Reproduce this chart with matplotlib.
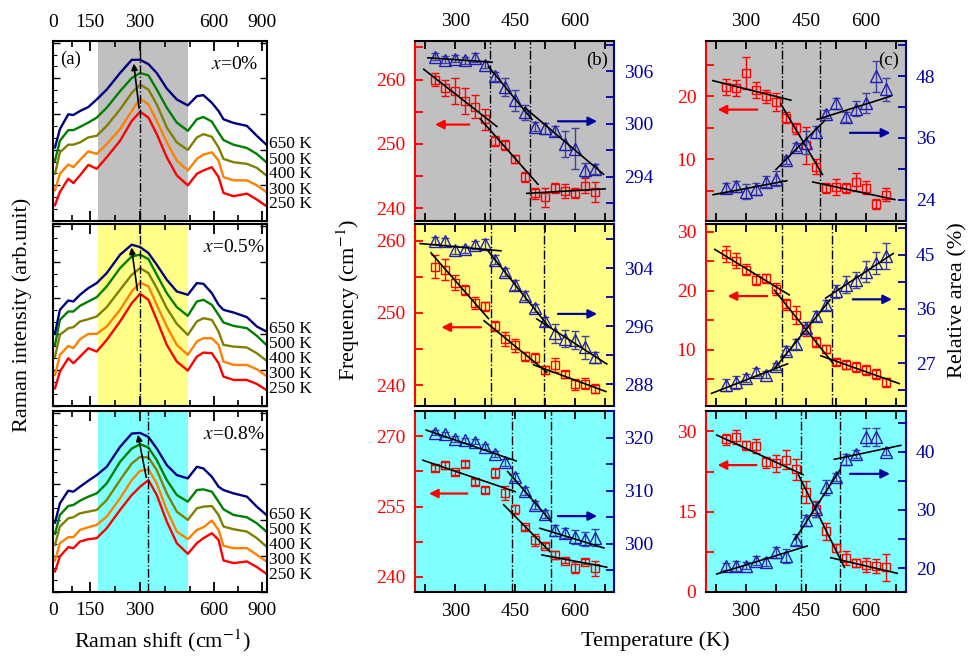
import numpy as np
import matplotlib
matplotlib.use('Agg')
import matplotlib.pyplot as plt
from matplotlib.ticker import MultipleLocator, FixedLocator
from matplotlib.transforms import blended_transform_factory

plt.rcParams['font.family'] = ['Liberation Serif', 'DejaVu Serif']
plt.rcParams['mathtext.fontset'] = 'stix'

RED = '#ff0000'
BLUE = '#0000a0'
GRAY = '#c0c0c0'
YELLOW = '#ffff88'
CYAN = '#80ffff'

# ---------- (a) Raman spectra ----------
shift = [7, 27, 61, 82, 109, 143, 170, 200, 240, 275, 300, 325, 350, 380, 410,
         443, 492, 533, 586, 628, 659, 722, 806, 868, 928]
spec_temps = ['250 K', '300 K', '400 K', '500 K', '650 K']
spec_colors = ['#ff0000', '#ff8000', '#808000', '#008000', '#000080']

a1_250 = [48, 88, 128, 115, 138, 170, 158, 193, 243, 303, 331, 313, 263, 193, 138, 108, 143, 153, 163, 133, 85, 75, 83, 65, 45]
a1_300 = [93, 143, 171, 163, 185, 211, 203, 233, 278, 333, 371, 353, 303, 238, 183, 153, 188, 201, 208, 183, 133, 123, 123, 108, 88]
a1_400 = [143, 208, 231, 231, 238, 253, 258, 288, 338, 388, 413, 398, 353, 283, 238, 215, 253, 263, 255, 223, 188, 178, 173, 161, 138]
a1_500 = [183, 243, 275, 275, 285, 298, 313, 343, 393, 433, 448, 441, 398, 343, 298, 273, 308, 315, 301, 268, 245, 231, 221, 203, 178]
a1_650 = [223, 278, 323, 321, 333, 345, 368, 398, 448, 488, 488, 475, 448, 401, 368, 350, 378, 381, 358, 333, 308, 297, 288, 258, 231]

a2_250 = [53, 103, 143, 128, 148, 173, 163, 198, 253, 308, 336, 318, 258, 183, 133, 106, 148, 160, 158, 128, 88, 78, 78, 66, 48]
a2_300 = [93, 153, 180, 173, 200, 216, 216, 238, 288, 343, 370, 358, 303, 238, 183, 153, 193, 203, 203, 183, 133, 123, 123, 110, 90]
a2_400 = [148, 213, 233, 236, 253, 260, 268, 296, 348, 393, 413, 398, 353, 293, 246, 213, 253, 263, 258, 223, 183, 178, 175, 158, 136]
a2_500 = [183, 258, 283, 283, 300, 313, 326, 358, 413, 448, 453, 440, 393, 338, 296, 270, 313, 318, 303, 273, 250, 240, 233, 210, 183]
a2_650 = [218, 288, 316, 313, 333, 353, 368, 398, 453, 483, 476, 458, 423, 378, 343, 333, 368, 366, 338, 303, 288, 280, 266, 238, 223]

a3_250 = [62, 107, 135, 132, 152, 159, 162, 192, 247, 292, 317, 337, 292, 212, 147, 115, 147, 162, 177, 157, 95, 87, 92, 75, 55]
a3_300 = [95, 147, 165, 165, 187, 195, 202, 227, 282, 337, 365, 369, 327, 247, 182, 159, 187, 195, 215, 187, 139, 132, 132, 112, 92]
a3_400 = [142, 197, 222, 225, 237, 242, 247, 277, 337, 387, 407, 405, 367, 297, 242, 217, 252, 257, 259, 232, 197, 189, 182, 162, 137]
a3_500 = [175, 232, 259, 262, 275, 287, 297, 327, 392, 432, 445, 435, 397, 337, 292, 272, 307, 309, 302, 272, 249, 232, 225, 207, 182]
a3_650 = [209, 267, 305, 302, 317, 335, 352, 377, 437, 477, 479, 467, 432, 382, 352, 342, 377, 372, 347, 317, 307, 297, 287, 257, 232]

label_y = [50, 95, 141, 186, 232]
spec_tags = ['$x$=0%', '$x$=0.5%', '$x$=0.8%']
spec_vline = [300, 300, 325]
# arrow tail (shift, I) -> head (shift, I)
spec_arrows = [((298, 333), (280, 485)), ((293, 338), (273, 483)), ((320, 337), (292, 482))]

# ---------- (b), (c) temperature dependence ----------
T = [250, 275, 300, 325, 350, 375, 400, 425, 450, 475, 500, 525, 550, 575, 600, 625, 650]

b1_red = [260.0, 258.7, 258.2, 256.7, 255.8, 253.8, 250.5, 249.8, 247.7, 244.9, 242.3, 241.7, 243.1, 242.7, 242.4, 243.5, 242.5]
b1_rerr = [1.0, 1.3, 2.0, 2.0, 1.8, 1.7, 0.8, 0.8, 0.6, 0.8, 0.9, 1.5, 0.8, 1.1, 0.8, 1.2, 1.5]
b1_blue = [307.6, 307.3, 307.4, 307.2, 307.5, 306.7, 305.4, 304.2, 302.7, 301.3, 299.7, 299.5, 299.2, 297.7, 297.2, 294.8, 294.9]
b1_berr = [0.4, 0.4, 0.4, 0.4, 0.5, 0.4, 0.5, 1.0, 1.2, 0.8, 0.5, 0.6, 0.6, 1.5, 2.3, 0.8, 0.6]
b1_rfit = [(221, 404, 261.6, 252.7), (362, 507, 253.9, 243.7), (479, 675, 242.3, 243.0)]
b1_bfit = [(231, 392, 307.5, 307.0), (383, 492, 306.5, 300.5), (475, 671, 301.8, 294.3)]

b2_red = [256.4, 256.0, 254.2, 253.2, 251.4, 250.9, 248.2, 246.4, 245.5, 244.0, 243.8, 242.1, 242.8, 241.5, 240.1, 240.2, 239.5]
b2_rerr = [1.6, 1.5, 1.1, 0.7, 0.8, 0.6, 0.7, 1.0, 0.9, 0.6, 0.6, 0.5, 1.0, 0.5, 0.8, 0.8, 0.6]
b2_blue = [307.8, 307.7, 306.5, 306.6, 307.2, 307.4, 305.2, 303.5, 301.7, 300.2, 298.5, 296.7, 295.0, 294.3, 294.1, 293.1, 291.7]
b2_berr = [0.5, 0.5, 0.5, 0.5, 0.5, 0.7, 0.6, 0.6, 0.7, 0.6, 0.6, 0.6, 1.3, 1.2, 1.3, 1.6, 0.8]
b2_rfit = [(239, 383, 258.3, 249.2), (372, 529, 248.9, 241.8), (496, 677, 242.8, 239.1)]
b2_bfit = [(212, 414, 307.4, 306.4), (383, 533, 306.3, 296.0), (504, 679, 297.0, 290.8)]

b3_red = [263.3, 263.8, 262.3, 264.1, 260.2, 258.5, 262.2, 258.0, 254.4, 250.6, 247.9, 246.7, 244.7, 243.5, 242.0, 243.3, 241.9]
b3_rerr = [0.6, 0.8, 0.5, 0.6, 0.6, 0.6, 1.1, 1.5, 1.0, 0.5, 1.2, 0.6, 0.8, 0.5, 1.2, 0.5, 1.6]
b3_blue = [320.9, 320.6, 319.7, 319.5, 319.2, 318.3, 316.9, 315.3, 312.6, 309.9, 307.3, 305.6, 302.5, 302.0, 301.3, 300.9, 301.1]
b3_berr = [0.5, 0.5, 0.5, 0.5, 0.5, 0.5, 0.5, 0.7, 0.8, 0.8, 0.8, 0.8, 1.0, 1.0, 1.3, 1.3, 1.6]
b3_rfit = [(219, 450, 264.9, 258.2), (421, 537, 255.4, 245.4), (517, 679, 244.7, 242.1)]
b3_bfit = [(227, 452, 321.4, 315.6), (431, 540, 313.6, 304.2), (512, 672, 302.9, 299.2)]

c1_red = [21.5, 21.3, 23.7, 21.0, 20.0, 19.1, 16.6, 14.9, 12.2, 8.8, 5.5, 5.6, 5.5, 6.4, 5.5, 2.9, 4.4]
c1_rerr = [1.3, 1.3, 2.5, 1.3, 1.0, 1.5, 0.9, 0.8, 3.0, 1.2, 0.8, 1.3, 0.8, 1.5, 1.0, 0.8, 1.0]
c1_blue = [26.3, 26.6, 25.6, 26.1, 27.5, 28.1, 31.7, 34.3, 35.1, 37.2, 40.6, 42.7, 40.1, 41.7, 42.8, 48.0, 45.4]
c1_berr = [1.0, 1.0, 1.5, 1.1, 1.1, 1.5, 0.8, 0.8, 2.3, 1.2, 0.8, 1.0, 1.0, 1.5, 2.0, 3.0, 2.2]
c1_rfit = [(217, 412, 22.5, 19.4), (387, 491, 18.8, 7.6), (467, 672, 6.4, 3.6)]
c1_bfit = [(218, 402, 25.0, 27.7), (375, 497, 29.9, 39.4), (478, 662, 39.6, 44.1)]

c2_red = [26.2, 25.1, 23.6, 21.9, 22.1, 20.3, 17.7, 15.9, 13.5, 11.3, 10.1, 8.0, 7.5, 7.1, 6.6, 5.9, 4.5]
c2_rerr = [1.4, 1.3, 1.0, 0.9, 0.8, 1.0, 0.9, 1.5, 1.2, 0.8, 0.7, 0.5, 0.8, 0.8, 0.8, 0.8, 0.8]
c2_blue = [23.4, 23.8, 24.5, 25.5, 25.1, 26.5, 29.1, 30.2, 32.8, 34.8, 36.7, 38.9, 40.0, 40.8, 42.2, 43.6, 44.8]
c2_berr = [1.0, 1.0, 0.7, 0.7, 0.6, 0.6, 0.8, 0.8, 1.0, 0.8, 0.8, 1.0, 1.4, 1.4, 1.8, 1.8, 2.1]
c2_rfit = [(222, 408, 27.0, 19.3), (371, 518, 20.1, 7.7), (487, 683, 9.0, 4.3)]
c2_bfit = [(214, 404, 22.0, 26.9), (372, 510, 26.2, 37.5), (499, 668, 37.8, 45.2)]

c3_red = [28.5, 29.0, 27.4, 27.2, 24.2, 24.0, 24.7, 22.9, 18.7, 15.5, 11.3, 8.2, 6.4, 5.4, 5.1, 4.9, 4.6]
c3_rerr = [1.0, 1.3, 0.8, 1.3, 1.0, 1.5, 1.8, 2.0, 2.0, 1.5, 1.5, 0.8, 1.3, 0.8, 1.3, 1.3, 2.5]
c3_blue = [20.3, 20.4, 20.4, 21.3, 21.0, 22.7, 22.1, 24.9, 28.2, 30.1, 33.9, 35.6, 38.7, 39.6, 42.5, 42.5, 40.0]
c3_berr = [0.6, 0.9, 0.6, 0.7, 0.7, 0.9, 1.2, 1.0, 1.0, 1.3, 1.3, 0.7, 0.9, 0.7, 1.5, 1.5, 0.6]
c3_rfit = [(227, 443, 29.3, 21.9), (431, 546, 21.9, 4.6), (512, 678, 6.4, 3.5)]
c3_bfit = [(227, 453, 19.0, 23.8), (422, 535, 24.9, 36.9), (521, 687, 38.7, 41.1)]

# transition temperatures (dash-dot lines)
b_vlines = [(387, 487), (389, 521), (441, 539)]
c_vlines = [(391, 485), (389, 516), (437, 535)]
# arrows: (T_tail, T_head, value)
b_rarrow = [(342, 242, 253.0), (371, 258, 248.0), (337, 227, 257.8)]
b_barrow = [(550, 662, 300.3), (550, 662, 297.7), (550, 662, 305.2)]
c_rarrow = [(335, 222, 17.9), (360, 247, 19.1), (333, 222, 23.7)]
c_barrow = [(553, 668, 37.0), (560, 672, 37.6), (553, 667, 36.2)]

faces = [GRAY, YELLOW, CYAN]

# piecewise Raman-shift axis (compressed at both ends)
SH_BRK = [-100, 0, 150, 450, 900, 1000]
PX_BRK = [-24.5, 0, 36.7, 136.7, 208.4, 224.3]


def fwd(x):
    return np.interp(x, SH_BRK, PX_BRK)


def inv(p):
    return np.interp(p, PX_BRK, SH_BRK)


fig = plt.figure(figsize=(9.69, 6.57), dpi=100)
W, H = 969., 657.
rows = [(41, 221), (224, 406), (411, 592)]


def add_ax(x0, x1, row):
    y0, y1 = row
    return fig.add_axes([x0 / W, 1 - y1 / H, (x1 - x0) / W, (y1 - y0) / H])


spectra = [[a1_250, a1_300, a1_400, a1_500, a1_650],
           [a2_250, a2_300, a2_400, a2_500, a2_650],
           [a3_250, a3_300, a3_400, a3_500, a3_650]]
tag_x = [0.96, 0.99, 0.99]

for i in range(3):
    ax = add_ax(53.3, 266.7, rows[i])
    ax.set_xscale('function', functions=(fwd, inv))
    ax.set_xlim(0, 930)
    ax.set_ylim(0, 545)
    ax.axvspan(175, 443, color=faces[i], lw=0, zorder=0)
    for curve, c in zip(spectra[i], spec_colors):
        ax.plot(shift, curve, color=c, lw=1.7, zorder=2)
    ax.axvline(spec_vline[i], color='k', ls='-.', lw=1, zorder=3)
    (t0, i0), (t1, i1) = spec_arrows[i]
    ax.annotate('', xy=(t1, i1), xytext=(t0, i0),
                arrowprops=dict(arrowstyle='-|>', color='k', lw=1.2, mutation_scale=9), zorder=4)
    trans = blended_transform_factory(ax.transAxes, ax.transData)
    for yy, lab in zip(label_y, spec_temps):
        ax.text(1.012, yy, lab, transform=trans, va='center', ha='left', fontsize=12.5)
    ax.text(tag_x[i], 0.87, spec_tags[i], transform=ax.transAxes, ha='right', va='center', fontsize=14)
    if i == 0:
        ax.text(0.08, 0.9, '(a)', transform=ax.transAxes, ha='center', va='center', fontsize=13.5)
    ax.xaxis.set_major_locator(FixedLocator([0, 150, 300, 600, 900]))
    ax.xaxis.set_minor_locator(FixedLocator([75, 225, 375, 450, 750]))
    ax.yaxis.set_major_locator(MultipleLocator(108))
    ax.yaxis.set_minor_locator(MultipleLocator(36))
    ax.tick_params(axis='x', which='both', direction='in', top=True, bottom=True,
                   labeltop=(i == 0), labelbottom=(i == 2), labelsize=14, pad=7)
    ax.tick_params(axis='x', which='major', length=7, width=1.3)
    ax.tick_params(axis='x', which='minor', length=4, width=1.2)
    ax.tick_params(axis='y', which='both', direction='in', left=True, right=True, labelleft=False)
    ax.tick_params(axis='y', which='major', length=5, width=1)
    ax.tick_params(axis='y', which='minor', length=3, width=0.8, right=False)
    for s in ax.spines.values():
        s.set_linewidth(1.5)

b_panels = [
    (b1_red, b1_rerr, b1_blue, b1_berr, b1_rfit, b1_bfit, (238, 266), [240, 250, 260], 5, (289, 309.4), [294, 300, 306], 3),
    (b2_red, b2_rerr, b2_blue, b2_berr, b2_rfit, b2_bfit, (237.1, 262.3), [240, 250, 260], 5, (285.0, 310.1), [288, 296, 304], 4),
    (b3_red, b3_rerr, b3_blue, b3_berr, b3_rfit, b3_bfit, (236.8, 275.4), [240, 255, 270], 7.5, (290.9, 325.0), [300, 310, 320], 5),
]
c_panels = [
    (c1_red, c1_rerr, c1_blue, c1_berr, c1_rfit, c1_bfit, (0.2, 28.8), [10, 20], 5, (19.9, 54.8), [24, 36, 48], 6),
    (c2_red, c2_rerr, c2_blue, c2_berr, c2_rfit, c2_bfit, (0.5, 31.3), [10, 20, 30], 5, (19.9, 50.1), [27, 36, 45], 4.5),
    (c3_red, c3_rerr, c3_blue, c3_berr, c3_rfit, c3_bfit, (0.0, 33.8), [0, 15, 30], 7.5, (15.9, 47.0), [20, 30, 40], 5),
]


def temp_panel(x0, x1, i, p, vl, ra, ba, xlim, tag):
    red, rerr, blue, berr, rfit, bfit, yl, yt, ym, yr, yrt, yrm = p
    ax = add_ax(x0, x1, rows[i])
    ax.set_facecolor(faces[i])
    ax2 = ax.twinx()
    ax.errorbar(T, red, yerr=rerr, fmt='s', ms=5.5, mfc='none', mec=RED, mew=1,
                ecolor=RED, elinewidth=1, capsize=3, capthick=1, zorder=2)
    for t0, t1, v0, v1 in rfit:
        ax.plot([t0, t1], [v0, v1], color='k', lw=1.2, zorder=3)
    ax2.errorbar(T, blue, yerr=berr, fmt='^', ms=8, mfc='none', mec='#2020b0', mew=1,
                 ecolor='#4040a0', elinewidth=1, capsize=3, capthick=1, zorder=2)
    for t0, t1, v0, v1 in bfit:
        ax2.plot([t0, t1], [v0, v1], color='k', lw=1.2, zorder=3)
    for v in vl:
        ax.axvline(v, color='k', ls='-.', lw=1, zorder=1)
    ax.annotate('', xy=(ra[1], ra[2]), xytext=(ra[0], ra[2]),
                arrowprops=dict(arrowstyle='-|>', color=RED, lw=1.6, mutation_scale=13))
    ax2.annotate('', xy=(ba[1], ba[2]), xytext=(ba[0], ba[2]),
                 arrowprops=dict(arrowstyle='-|>', color=BLUE, lw=1.6, mutation_scale=13))
    ax.set_xlim(*xlim)
    ax.set_ylim(*yl)
    ax2.set_ylim(*yr)
    ax.set_yticks(yt)
    ax.yaxis.set_minor_locator(MultipleLocator(ym))
    ax2.set_yticks(yrt)
    ax2.yaxis.set_minor_locator(MultipleLocator(yrm))
    ax.set_xticks([300, 450, 600])
    ax.set_xticks([225, 375, 525, 675], minor=True)
    ax.tick_params(axis='x', which='both', direction='in', top=True, bottom=True,
                   length=6, width=1.3, labeltop=(i == 0), labelbottom=(i == 2),
                   labelsize=14, pad=8)
    ax.tick_params(axis='y', which='both', direction='in', length=6, width=1.3,
                   colors=RED, labelsize=14, pad=7)
    ax2.tick_params(axis='y', which='both', direction='in', length=6, width=1.3,
                    colors=BLUE, labelsize=14, pad=7)
    ax.spines['right'].set_visible(False)
    ax2.spines['left'].set_visible(False)
    ax2.spines['top'].set_visible(False)
    ax2.spines['bottom'].set_visible(False)
    ax.spines['left'].set_color(RED)
    ax2.spines['right'].set_color(BLUE)
    for s in list(ax.spines.values()) + list(ax2.spines.values()):
        s.set_linewidth(1.5)
    if tag:
        ax.text(0.915, 0.89, tag, transform=ax.transAxes, ha='center', va='center', fontsize=13.5, zorder=5)


for i in range(3):
    temp_panel(415, 614.3, i, b_panels[i], b_vlines[i], b_rarrow[i], b_barrow[i],
               (199, 698), '(b)' if i == 0 else None)
    temp_panel(706, 906, i, c_panels[i], c_vlines[i], c_rarrow[i], c_barrow[i],
               (200, 700), '(c)' if i == 0 else None)

fig.text(0.023, 0.52, 'Raman intensity (arb.unit)', rotation=90, ha='center', va='center', fontsize=16)
fig.text(0.168, 0.024, 'Raman shift (cm$^{-1}$)', ha='center', va='center', fontsize=16)
fig.text(0.359, 0.543, 'Frequency (cm$^{-1}$)', rotation=90, ha='center', va='center', fontsize=16)
fig.text(0.676, 0.024, 'Temperature (K)', ha='center', va='center', fontsize=16)
fig.text(0.988, 0.543, 'Relative area (%)', rotation=90, ha='center', va='center', fontsize=16)

fig.savefig('out.png', dpi=100)
